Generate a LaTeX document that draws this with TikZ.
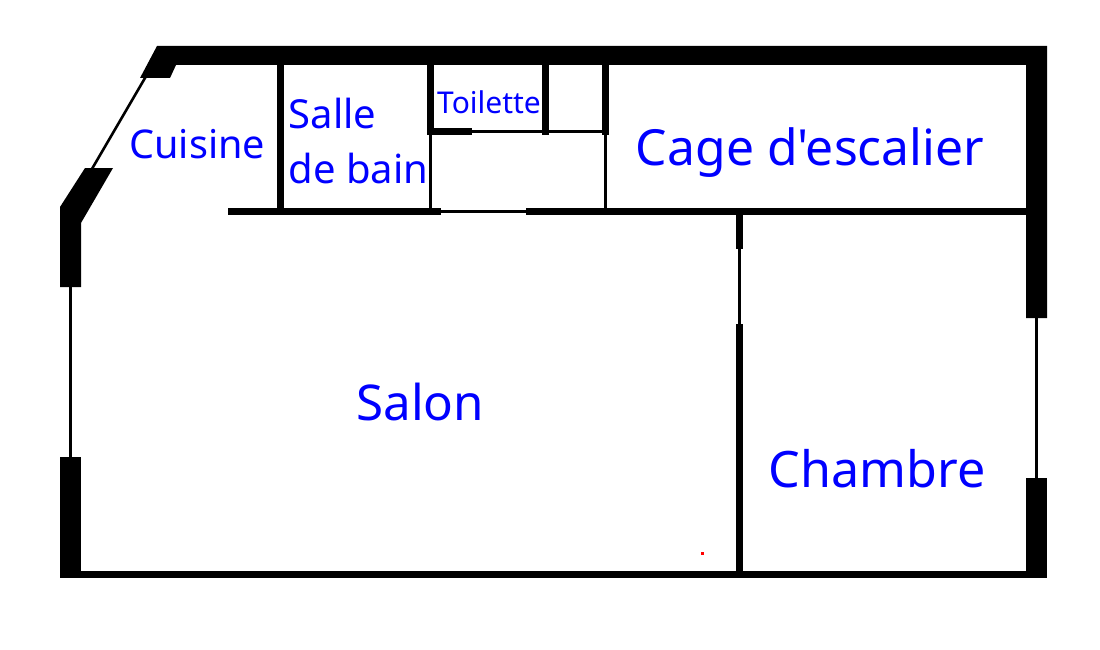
\documentclass[tikz,border=0pt]{standalone}
\usepackage{fontspec}
\newfontfamily\labelfont{Noto Sans}
\tikzset{
  wall/.style={fill=black,draw=none},
  lbl/.style={text=blue,inner sep=0pt,anchor=base,font=\labelfont},
}
\newcommand{\fs}[1]{\fontsize{#1}{#1}\selectfont}
\begin{document}
\begin{tikzpicture}[x=1pt,y=-1pt]
\useasboundingbox (0,0) rectangle (1100,650);
\fill[white] (0,0) rectangle (1100,650);
% outer walls
\fill[wall] (157,46) -- (1047,46) -- (1047,318) -- (1026,318) -- (1026,65) -- (176,65) -- (170,78) -- (140,78) -- cycle;
\fill[wall] (85,168) -- (113,168) -- (81,223) -- (81,287) -- (60,287) -- (60,207) -- cycle;
\fill[wall] (60,457) rectangle (81,578);
\fill[wall] (60,571) rectangle (1047,578);
\fill[wall] (1026,478) rectangle (1047,578);
% windows
\fill[wall] (143.5,78) -- (146.5,78) -- (94,168) -- (91,168) -- cycle;
\fill[wall] (69,287) rectangle (72,457);
\fill[wall] (1035,318) rectangle (1038,478);
% main interior wall
\fill[wall] (228,208) rectangle (441,215);
\fill[wall] (441,210) rectangle (526,213);
\fill[wall] (526,208) rectangle (1026,215);
% partitions
\fill[wall] (277,65) rectangle (284,208);
\fill[wall] (736,215) rectangle (743,249);
\fill[wall] (738,249) rectangle (741,324);
\fill[wall] (736,324) rectangle (743,571);
% toilet block
\fill[wall] (427,65) rectangle (434,135);
\fill[wall] (427,128) rectangle (472,135);
\fill[wall] (472,130) rectangle (605,133);
\fill[wall] (542,65) rectangle (549,135);
\fill[wall] (602,65) rectangle (609,135);
\fill[wall] (429,135) rectangle (432,208);
\fill[wall] (604,135) rectangle (607,208);
% red speck
\fill[red] (701,552) rectangle (704,555);
% labels
\node[lbl] (cuisine) at (197.3,158) {\fs{39.6}Cuisine};
\node[lbl,anchor=base west] (salle) at (288.5,129) {\fs{40}Salle};
\node[lbl,anchor=base west] (bain) at (288.5,183.5) {\fs{40}de bain};
\node[lbl] (toilette) at (489,114) {\fs{30}Toilette};
\node[lbl] (cage) at (810,165) {\fs{49.8}Cage d'escalier};
\node[lbl] (salon) at (420.3,420) {\fs{49.3}Salon};
\node[lbl] (chambre) at (877,487.5) {\fs{50.2}Chambre};
\end{tikzpicture}
\end{document}
